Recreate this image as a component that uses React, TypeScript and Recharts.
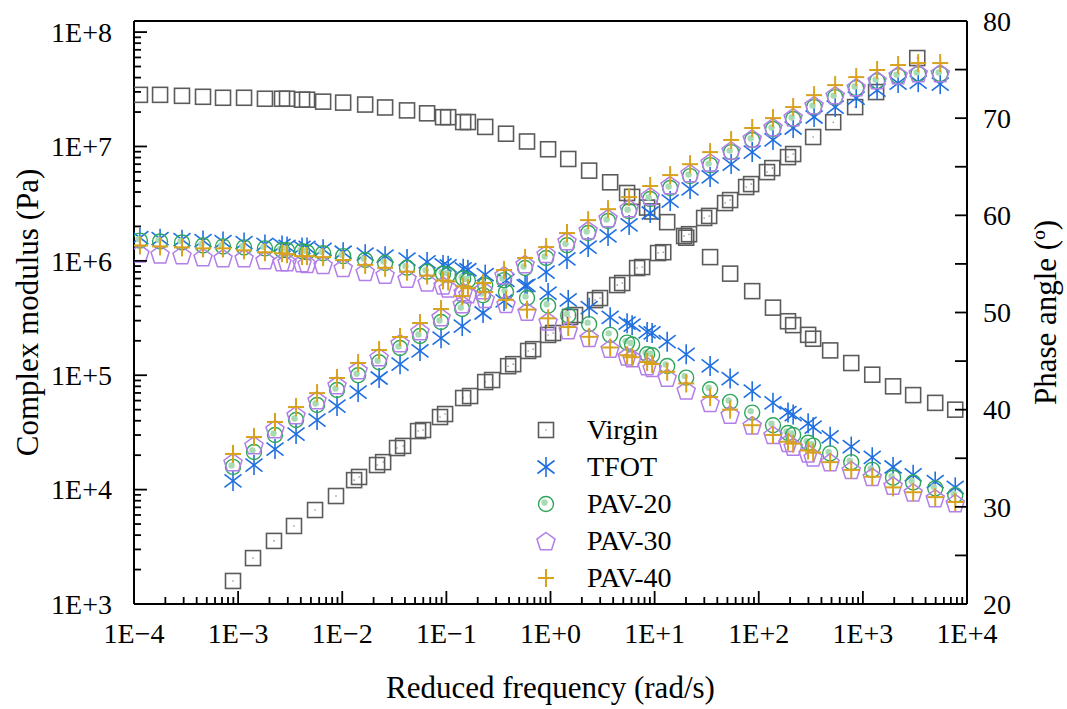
import React from "react";
import { ScatterChart, Scatter, XAxis, YAxis, Legend, ReferenceLine } from "recharts";

// Phase-angle sweep: reduced frequency (rad/s), shared by all five binders
const phaseFreq = [
  1.14e-4, 1.78e-4, 2.89e-4, 4.6e-4, 7.16e-4, 1.14e-3, 1.81e-3, 2.64e-3, 2.95e-3, 4.11e-3,
  4.59e-3, 6.55e-3, 1.02e-2, 1.66e-2, 2.58e-2, 4.19e-2, 6.53e-2, 9.29e-2, 0.104, 0.145,
  0.161, 0.236, 0.374, 0.595, 0.948, 1.48, 2.35, 3.74, 5.44, 6.08,
  8.47, 9.46, 13.2, 20.1, 34.1, 53.1, 86.5, 137, 191, 214,
  298, 333, 485, 773, 1230, 1950, 3040, 4950, 7710,
];

// Phase angle (deg)
const virginPhase = [
  72.4, 72.4, 72.3, 72.2, 72.1, 72.1, 72.0, 72.0, 72.0, 71.9,
  71.9, 71.7, 71.6, 71.4, 71.1, 70.8, 70.5, 70.1, 70.1, 69.6,
  69.6, 69.1, 68.4, 67.6, 66.8, 65.8, 64.6, 63.4, 62.3, 61.9,
  60.8, 60.4, 59.3, 57.7, 55.7, 54.0, 52.2, 50.5, 49.1, 48.7,
  47.7, 47.3, 46.1, 44.8, 43.6, 42.4, 41.5, 40.7, 40.0,
];
const tfotPhase = [
  57.7, 57.6, 57.5, 57.4, 57.3, 57.2, 57.0, 56.9, 56.8, 56.7,
  56.7, 56.5, 56.2, 56.0, 55.8, 55.5, 55.2, 54.9, 54.8, 54.5,
  54.4, 53.9, 53.3, 52.8, 52.0, 51.3, 50.5, 49.5, 48.9, 48.7,
  48.0, 47.9, 47.0, 45.7, 44.5, 43.2, 41.9, 40.7, 39.7, 39.5,
  38.6, 38.2, 37.2, 36.2, 35.1, 34.1, 33.3, 32.6, 32.0,
];
const pav20Phase = [
  57.4, 57.3, 57.2, 56.9, 56.8, 56.7, 56.6, 56.4, 56.4, 56.3,
  56.2, 56.1, 55.8, 55.4, 55.1, 54.6, 54.2, 54.0, 53.9, 53.5,
  53.3, 52.8, 52.1, 51.5, 50.7, 49.7, 48.8, 47.7, 46.9, 46.7,
  45.7, 45.6, 44.5, 43.3, 42.1, 40.8, 39.7, 38.4, 37.6, 37.4,
  36.6, 36.3, 35.5, 34.6, 33.8, 33.0, 32.5, 31.9, 31.2,
];
const pav30Phase = [
  56.1, 56.0, 55.9, 55.7, 55.6, 55.6, 55.4, 55.2, 55.2, 55.1,
  55.0, 54.9, 54.6, 54.2, 53.9, 53.5, 53.1, 52.8, 52.5, 52.1,
  51.9, 51.4, 50.9, 50.1, 49.1, 48.2, 47.4, 46.3, 45.5, 45.3,
  44.5, 44.3, 43.3, 42.0, 40.7, 39.5, 38.4, 37.4, 36.6, 36.2,
  35.5, 35.1, 34.6, 33.8, 33.1, 32.2, 31.5, 30.9, 30.4,
];
const pav40Phase = [
  56.9, 56.8, 56.7, 56.6, 56.6, 56.4, 56.2, 56.1, 56.0, 55.8,
  55.8, 55.7, 55.4, 54.9, 54.6, 54.2, 53.8, 53.3, 53.2, 52.7,
  52.5, 52.1, 51.3, 50.3, 49.4, 48.5, 47.5, 46.4, 45.6, 45.4,
  44.9, 44.7, 43.9, 42.7, 41.3, 40.0, 38.4, 37.4, 36.7, 36.5,
  35.8, 35.6, 34.6, 33.8, 33.1, 32.0, 31.5, 31.0, 30.5,
];

// Complex modulus sweep of the unaged binder (rad/s, Pa)
const virginModulusFreq = [
  8.93e-4, 1.39e-3, 2.21e-3, 3.44e-3, 5.48e-3, 8.71e-3, 1.3e-2, 1.45e-2, 2.16e-2, 2.47e-2,
  3.36e-2, 3.84e-2, 5.35e-2, 5.97e-2, 8.69e-2, 9.72e-2, 0.145, 0.169, 0.236, 0.275,
  0.392, 0.438, 0.61, 0.681, 0.948, 1.06, 1.54, 1.72, 2.68, 2.99,
  4.37, 4.88, 6.79, 7.59, 10.8, 12.1, 19.2, 21.4, 29.9, 33.4,
  47.5, 53.1, 75.7, 84.5, 120, 135, 191, 214, 333, 519,
  843, 1340, 3330,
];
const virginModulus = [
  1590, 2520, 3560, 4810, 6630, 8790, 1.21e4, 1.29e4, 1.64e4, 1.74e4,
  2.31e4, 2.41e4, 3.25e4, 3.32e4, 4.31e4, 4.58e4, 6.32e4, 6.58e4, 8.72e4, 9.08e4,
  1.2e5, 1.25e5, 1.63e5, 1.69e5, 2.25e5, 2.34e5, 3.23e5, 3.36e5, 4.54e5, 4.73e5,
  6.14e5, 6.4e5, 8.65e5, 8.83e5, 1.17e6, 1.19e6, 1.65e6, 1.71e6, 2.37e6, 2.47e6,
  3.2e6, 3.4e6, 4.42e6, 4.69e6, 5.97e6, 6.47e6, 8.07e6, 8.59e6, 1.21e7, 1.63e7,
  2.21e7, 2.99e7, 5.93e7,
];

// Complex modulus sweep of the aged binders (rad/s, Pa)
const agedModulusFreq = [
  8.93e-4, 1.42e-3, 2.26e-3, 3.6e-3, 5.73e-3, 8.91e-3, 1.42e-2, 2.26e-2, 3.59e-2, 5.58e-2,
  8.89e-2, 0.142, 0.225, 0.358, 0.57, 0.908, 1.44, 2.3, 3.57, 5.69,
  9.06, 14.1, 21.9, 34.1, 54.3, 86.5, 137, 214, 340, 542,
  863, 1370, 2180, 3400, 5530,
];
const tfotModulus = [
  1.19e4, 1.64e4, 2.26e4, 3.06e4, 4.06e4, 5.38e4, 7.13e4, 9.46e4, 1.25e5, 1.63e5,
  2.11e5, 2.69e5, 3.5e5, 4.46e5, 6.03e5, 7.98e5, 1.04e6, 1.32e6, 1.65e6, 2.06e6,
  2.62e6, 3.33e6, 4.25e6, 5.41e6, 7.02e6, 8.93e6, 1.14e7, 1.45e7, 1.81e7, 2.21e7,
  2.65e7, 3.11e7, 3.58e7, 3.65e7, 3.51e7,
];
const pav20Modulus = [
  1.58e4, 2.13e4, 3.0e4, 4.06e4, 5.49e4, 7.43e4, 1.0e5, 1.3e5, 1.73e5, 2.2e5,
  2.92e5, 3.79e5, 5.02e5, 6.79e5, 8.65e5, 1.06e6, 1.37e6, 1.75e6, 2.23e6, 2.72e6,
  3.47e6, 4.33e6, 5.51e6, 6.87e6, 8.93e6, 1.14e7, 1.42e7, 1.74e7, 2.21e7, 2.7e7,
  3.24e7, 3.73e7, 4.12e7, 4.3e7, 4.3e7,
];
const pav30Modulus = [
  1.74e4, 2.45e4, 3.39e4, 4.49e4, 6.07e4, 8.21e4, 1.11e5, 1.44e5, 1.91e5, 2.43e5,
  3.23e5, 4.19e5, 5.56e5, 7.51e5, 9.38e5, 1.15e6, 1.49e6, 1.86e6, 2.37e6, 2.89e6,
  3.68e6, 4.6e6, 5.84e6, 7.28e6, 9.27e6, 1.18e7, 1.48e7, 1.81e7, 2.3e7, 2.81e7,
  3.3e7, 3.8e7, 4.21e7, 4.38e7, 4.38e7,
];
const pav40Modulus = [
  2.05e4, 2.88e4, 3.9e4, 5.27e4, 6.98e4, 9.46e4, 1.28e5, 1.66e5, 2.16e5, 2.86e5,
  3.79e5, 4.92e5, 6.4e5, 8.31e5, 1.06e6, 1.32e6, 1.75e6, 2.27e6, 2.83e6, 3.61e6,
  4.51e6, 5.62e6, 7.0e6, 8.93e6, 1.14e7, 1.45e7, 1.77e7, 2.21e7, 2.81e7, 3.44e7,
  4.04e7, 4.66e7, 5.15e7, 5.36e7, 5.36e7,
];

const seriesNames = ["Virgin", "TFOT", "PAV-20", "PAV-30", "PAV-40"];

const xMajorTicks = [1e-4, 1e-3, 1e-2, 1e-1, 1, 1e1, 1e2, 1e3, 1e4];
const xTickLabels = ["1E\u22124", "1E\u22123", "1E\u22122", "1E\u22121", "1E+0", "1E+1", "1E+2", "1E+3", "1E+4"];
const gMajorTicks = [1e3, 1e4, 1e5, 1e6, 1e7, 1e8];
const gTickLabels = ["1E+3", "1E+4", "1E+5", "1E+6", "1E+7", "1E+8"];
const phaseTicks = [20, 25, 30, 35, 40, 45, 50, 55, 60, 65, 70, 75, 80];
const phaseTickLabels = ["20", "30", "40", "50", "60", "70", "80"];

const FONT = "'Liberation Serif', 'Times New Roman', serif";
const GRAY = "#5b5b5b";
const BLUE = "#1f6fe0";
const GREEN = "#2ea65a";
const PURPLE = "#b27ee8";
const GOLD = "#d8a21e";

const withMinors = (majors: number[]) =>
  [
    ...majors,
    ...majors.slice(0, -1).flatMap((m) => [2, 3, 4, 5, 6, 7, 8, 9].map((k) => k * m)),
  ].sort((a, b) => a - b);

const xTicks = withMinors(xMajorTicks);
const gTicks = withMinors(gMajorTicks);

const toPoints = (freq: number[], vals: number[]) => freq.map((f, i) => ({ f, v: vals[i] }));

// ---- markers ----
const square = (cx: number, cy: number, dot: boolean) => (
  <g>
    <rect x={cx - 7.5} y={cy - 7.5} width={15} height={15} fill="none" stroke={GRAY} strokeWidth={1.6} />
    {dot && <circle cx={cx} cy={cy} r={0.8} fill="#888" />}
  </g>
);
const asterisk = (cx: number, cy: number) => (
  <g stroke={BLUE} strokeWidth={1.6}>
    <line x1={cx} y1={cy - 10} x2={cx} y2={cy + 10} />
    <line x1={cx - 8.5} y1={cy - 6.5} x2={cx + 8.5} y2={cy + 6.5} />
    <line x1={cx - 8.5} y1={cy + 6.5} x2={cx + 8.5} y2={cy - 6.5} />
  </g>
);
const ringDot = (cx: number, cy: number) => (
  <g>
    <circle cx={cx} cy={cy} r={7.5} fill="none" stroke={GREEN} strokeWidth={1.4} />
    <circle cx={cx - 1.5} cy={cy - 1.5} r={3.2} fill="#a8dab4" />
  </g>
);
const pentagon = (cx: number, cy: number) => {
  const r = 9.5;
  const pts = [0, 1, 2, 3, 4]
    .map((k) => {
      const a = -Math.PI / 2 + (k * 2 * Math.PI) / 5;
      return `${cx + r * Math.cos(a)},${cy + r * Math.sin(a) + 1}`;
    })
    .join(" ");
  return <polygon points={pts} fill="none" stroke={PURPLE} strokeWidth={1.5} />;
};
const plus = (cx: number, cy: number) => (
  <g stroke={GOLD} strokeWidth={2}>
    <line x1={cx - 8} y1={cy} x2={cx + 8} y2={cy} />
    <line x1={cx} y1={cy - 9} x2={cx} y2={cy + 9} />
  </g>
);

const legendMarkers = [
  (x: number, y: number) => square(x, y, true),
  asterisk,
  ringDot,
  pentagon,
  plus,
];

// ---- ticks (drawn pointing into the plot) ----
const tickText = { fontFamily: FONT, fontSize: 28, fill: "#000" };

function BottomTick({ x, y, payload }: any) {
  const i = xMajorTicks.indexOf(payload.value);
  return (
    <g>
      <line x1={x} x2={x} y1={y} y2={y - (i >= 0 ? 13 : 7)} stroke="#000" strokeWidth={1.8} />
      {i >= 0 && (
        <text x={x} y={y + 39} textAnchor="middle" {...tickText}>
          {xTickLabels[i]}
        </text>
      )}
    </g>
  );
}

function LeftTick({ x, y, payload }: any) {
  const i = gMajorTicks.indexOf(payload.value);
  return (
    <g>
      <line x1={x} x2={x + (i >= 0 ? 13 : 7)} y1={y} y2={y} stroke="#000" strokeWidth={1.8} />
      {i >= 0 && (
        <text x={x - 22} y={y} dy="0.35em" textAnchor="end" {...tickText}>
          {gTickLabels[i]}
        </text>
      )}
    </g>
  );
}

function RightTick({ x, y, payload }: any) {
  const v = payload.value as number;
  const labelled = v % 10 === 0;
  return (
    <g>
      <line x1={x} x2={x - 12} y1={y} y2={y} stroke="#000" strokeWidth={1.8} />
      {labelled && (
        <text x={x + 16} y={y} dy="0.35em" textAnchor="start" {...tickText}>
          {phaseTickLabels[(v - 20) / 10]}
        </text>
      )}
    </g>
  );
}

function LegendBox() {
  return (
    <div style={{ fontFamily: FONT, fontSize: 28, color: "#000" }}>
      {seriesNames.map((name, i) => (
        <div key={name} style={{ display: "flex", alignItems: "center", height: 36.8 }}>
          <svg width={53} height={26} style={{ display: "block" }}>
            {legendMarkers[i](12, 13)}
          </svg>
          <span>{name}</span>
        </div>
      ))}
    </div>
  );
}

const series = [
  { phase: virginPhase, modFreq: virginModulusFreq, modulus: virginModulus,
    phaseShape: (p: any) => square(p.cx, p.cy, false), modShape: (p: any) => square(p.cx, p.cy, true) },
  { phase: tfotPhase, modFreq: agedModulusFreq, modulus: tfotModulus,
    phaseShape: (p: any) => asterisk(p.cx, p.cy), modShape: (p: any) => asterisk(p.cx, p.cy) },
  { phase: pav20Phase, modFreq: agedModulusFreq, modulus: pav20Modulus,
    phaseShape: (p: any) => ringDot(p.cx, p.cy), modShape: (p: any) => ringDot(p.cx, p.cy) },
  { phase: pav30Phase, modFreq: agedModulusFreq, modulus: pav30Modulus,
    phaseShape: (p: any) => pentagon(p.cx, p.cy), modShape: (p: any) => pentagon(p.cx, p.cy) },
  { phase: pav40Phase, modFreq: agedModulusFreq, modulus: pav40Modulus,
    phaseShape: (p: any) => plus(p.cx, p.cy), modShape: (p: any) => plus(p.cx, p.cy) },
];

export default function App() {
  const axisLine = { stroke: "#000", strokeWidth: 2 };
  const titleStyle = { textAnchor: "middle" as const, fontFamily: FONT, fontSize: 31, fill: "#000" };
  return (
    <div style={{ position: "absolute", left: 0, top: 0, width: 1067, height: 709, background: "#fff" }}>
      <ScatterChart width={1067} height={709} margin={{ top: 21, right: 40, bottom: 45, left: 34 }}>
        <XAxis
          dataKey="f"
          type="number"
          scale="log"
          domain={[1e-4, 1e4]}
          allowDataOverflow
          ticks={xTicks}
          interval={0}
          tick={BottomTick}
          tickLine={false}
          tickSize={0}
          tickMargin={0}
          axisLine={axisLine}
          height={60}
          label={{ value: "Reduced frequency (rad/s)", position: "bottom", offset: 12, style: titleStyle }}
        />
        <YAxis
          yAxisId="g"
          dataKey="v"
          type="number"
          scale="log"
          domain={[1000, 1.25e8]}
          allowDataOverflow
          ticks={gTicks}
          interval={0}
          tick={LeftTick}
          tickLine={false}
          tickSize={0}
          tickMargin={0}
          axisLine={axisLine}
          width={100}
          label={{ value: "Complex modulus (Pa)", angle: -90, position: "insideLeft", offset: -7, style: titleStyle }}
        />
        <YAxis
          yAxisId="p"
          orientation="right"
          dataKey="v"
          type="number"
          domain={[20, 80]}
          allowDataOverflow
          ticks={phaseTicks}
          interval={0}
          tick={RightTick}
          tickLine={false}
          tickSize={0}
          tickMargin={0}
          axisLine={axisLine}
          width={60}
          label={{ value: "Phase angle (\u00ba)", angle: -90, position: "insideRight", offset: -18, style: titleStyle }}
        />
        <ReferenceLine yAxisId="p" y={80} stroke="#000" strokeWidth={2} />
        {series.flatMap((s, i) => [
          <Scatter
            key={`p${i}`}
            yAxisId="p"
            data={toPoints(phaseFreq, s.phase)}
            shape={s.phaseShape}
            isAnimationActive={false}
          />,
          <Scatter
            key={`g${i}`}
            yAxisId="g"
            data={toPoints(s.modFreq, s.modulus)}
            shape={s.modShape}
            isAnimationActive={false}
          />,
        ])}
        <Legend
          layout="vertical"
          align="center"
          verticalAlign="middle"
          content={LegendBox}
          wrapperStyle={{ left: 534, top: 412, width: 200 }}
        />
      </ScatterChart>
    </div>
  );
}
